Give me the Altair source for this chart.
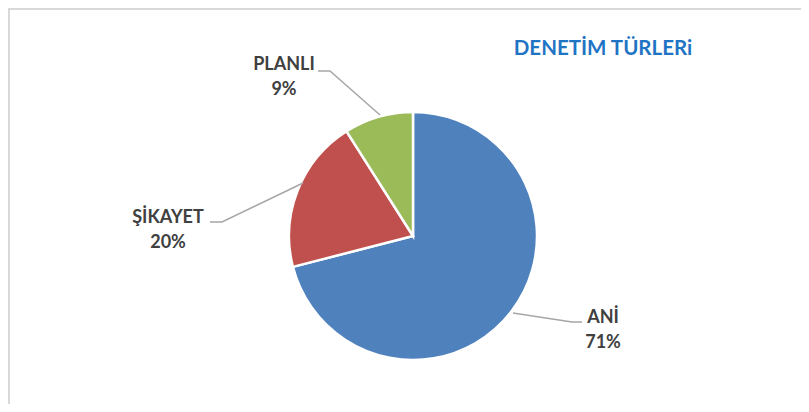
import altair as alt
import pandas as pd

categories = ["ANİ", "ŞİKAYET", "PLANLI"]
values = [71, 20, 9]
pct_labels = ["71%", "20%", "9%"]
colors = ["#4F81BD", "#C0504D", "#9BBB59"]
title_text = "DENETİM TÜRLERi"

W, H = 793, 396
CX, CY = 405, 228
R = 124
FONT = "Lato"

df = pd.DataFrame({"cat": categories, "val": values, "pct": pct_labels,
                   "order": list(range(len(categories)))})

base = alt.Chart(df)

pie = base.mark_arc(outerRadius=R, stroke="white", strokeWidth=2.5).encode(
    theta=alt.Theta("val:Q", stack=True),
    color=alt.Color("cat:N", scale=alt.Scale(domain=categories, range=colors), legend=None),
    order=alt.Order("order:Q"),
    x=alt.value(CX), y=alt.value(CY),
)

# label layout (chart pixels)
label_pos = {"ANİ": (595, 310), "ŞİKAYET": (160, 210), "PLANLI": (276, 57)}
leader_pts = {
    "ANİ": [(505, 305), (564, 314), (574, 314)],
    "ŞİKAYET": [(295, 175), (214, 214), (202, 214)],
    "PLANLI": [(372, 107), (322, 63), (310, 63)],
}

layers = [pie]
for c in categories:
    lx, ly = label_pos[c]
    t = base.transform_filter(alt.datum.cat == c)
    layers.append(t.mark_text(font=FONT, fontSize=18, fontWeight="bold", color="#404040",
                              align="center", baseline="middle").encode(
        text="cat:N", x=alt.value(lx), y=alt.value(ly)))
    layers.append(t.mark_text(font=FONT, fontSize=18, fontWeight="bold", color="#404040",
                              align="center", baseline="middle").encode(
        text="pct:N", x=alt.value(lx), y=alt.value(ly + 25)))

rows = []
for c, pts in leader_pts.items():
    for i, (px, py) in enumerate(pts):
        rows.append({"g": c, "i": i, "px": px, "py": py})
ldf = pd.DataFrame(rows)
leaders = alt.Chart(ldf).mark_line(color="#A6A6A6", strokeWidth=1.5).encode(
    x=alt.X("px:Q", scale=None, axis=None),
    y=alt.Y("py:Q", scale=None, axis=None),
    detail="g:N", order="i:Q")
layers.append(leaders)

title = alt.Chart(pd.DataFrame({"t": [title_text]})).mark_text(
    font=FONT, fontSize=20.5, fontWeight="bold", color="#1F74C4",
    align="center", baseline="middle").encode(text="t:N", x=alt.value(595), y=alt.value(41))
layers.append(title)

frame_top = alt.Chart(pd.DataFrame({"a": [0]})).mark_rule(color="#D9D9D9", strokeWidth=2).encode(
    x=alt.value(1), x2=alt.value(W), y=alt.value(1))
frame_left = alt.Chart(pd.DataFrame({"a": [0]})).mark_rule(color="#D9D9D9", strokeWidth=2).encode(
    x=alt.value(1), y=alt.value(0), y2=alt.value(H))
layers += [frame_top, frame_left]

chart = alt.layer(*layers).properties(
    width=W, height=H, padding=0, autosize=alt.AutoSizeParams(type="none")
).configure_view(stroke=None).configure(background="white")

chart.save("out.html", embed_options={"renderer": "svg", "actions": False})
